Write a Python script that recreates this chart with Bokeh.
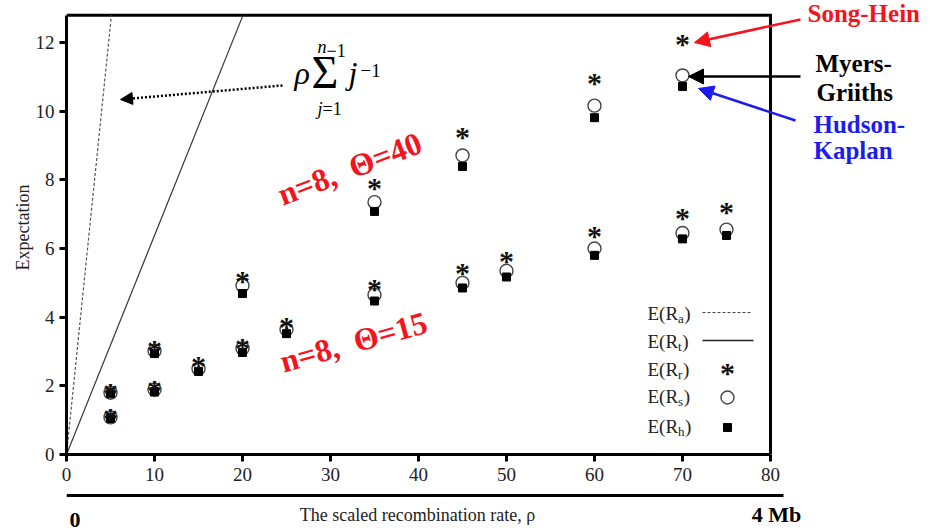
import math
from bokeh.plotting import figure
from bokeh.layouts import column
from bokeh.models import Range1d, LinearAxis, FixedTicker, Label, Arrow, NormalHead
from bokeh.embed import file_html
from bokeh.resources import INLINE
from bokeh.core.properties import value

# ---------------- data ----------------
x_ticks = [0, 10, 20, 30, 40, 50, 60, 70, 80]
y_ticks = [0, 2, 4, 6, 8, 10, 12]

# n=8, Theta=15
rho_t15 = [5, 10, 15, 20, 25, 35, 45, 50, 60, 70, 75]
Rr_t15 = [1.13, 1.96, 2.65, 3.17, 3.80, 4.90, 5.35, 5.70, 6.45, 6.95, 7.15]
Rs_t15 = [1.08, 1.89, 2.50, 3.09, 3.64, 4.65, 5.00, 5.35, 6.00, 6.45, 6.55]
Rh_t15 = [1.05, 1.82, 2.42, 2.97, 3.52, 4.47, 4.85, 5.17, 5.80, 6.28, 6.38]

# n=8, Theta=40
rho_t40 = [5, 10, 20, 35, 45, 60, 70]
Rr_t40 = [1.86, 3.12, 5.12, 7.84, 9.33, 10.90, 12.02]
Rs_t40 = [1.80, 3.02, 4.92, 7.35, 8.71, 10.16, 11.04]
Rh_t40 = [1.77, 2.94, 4.69, 7.08, 8.39, 9.81, 10.72]

# expectation lines (drawn up to the top of the box)
rho_Ra = [0, 5.1]
E_Ra = [0, 12.79]
rho_Rt = [0, 20.05]
E_Rt = [0, 12.79]

X_MAX = 80
Y_TOP = 12.79

SERIF = "Liberation Serif"
DESC = 0.216  # descent of Liberation Serif (em)

# ---------------- main figure ----------------
W = 940
H1 = 490
p = figure(width=W, height=H1, x_range=Range1d(0, 99.32), y_range=Range1d(0, 13.223),
           output_backend="svg", toolbar_location=None,
           x_axis_type=None, y_axis_type=None,
           min_border_left=66, min_border_right=0, min_border_top=0, min_border_bottom=36)
p.outline_line_color = None
p.background_fill_color = "white"
p.border_fill_color = "white"


def X(px):
    return (px - 66) / 8.8


def Y(py):
    return (454 - py) / 34.333


def txt(px, base, text, size, color="black", style="normal", align="left", angle=0.0, ymap=Y):
    """Label whose alphabetic baseline sits at picture row `base`."""
    return Label(x=X(px), y=ymap(base + DESC * size), text=text, text_font=SERIF,
                 text_font_style=style, text_font_size=f"{size}px", text_color=color,
                 text_align=align, text_baseline="bottom", angle=angle)


def style_axis(ax):
    ax.axis_line_width = 3
    ax.axis_line_color = "black"
    ax.major_tick_line_width = 3
    ax.major_tick_out = 7
    ax.major_tick_in = 0
    ax.minor_tick_out = 0
    ax.minor_tick_in = 0
    ax.major_label_text_font = SERIF
    ax.major_label_text_font_size = "19px"
    ax.major_label_text_color = "#222222"
    ax.axis_label_text_font = SERIF
    ax.axis_label_text_font_style = "normal"
    ax.axis_label_text_font_size = "18px"
    ax.axis_label_text_color = "#222222"


yax = LinearAxis(ticker=FixedTicker(ticks=y_ticks), bounds=(0, Y_TOP), axis_label="Expectation")
style_axis(yax)
yax.major_label_standoff = 5
yax.axis_label_standoff = 0
p.add_layout(yax, "left")

xax = LinearAxis(ticker=FixedTicker(ticks=x_ticks), bounds=(0, X_MAX))
style_axis(xax)
xax.major_label_standoff = 6
p.add_layout(xax, "below")

# box top and right
p.line([0, X_MAX, X_MAX], [Y_TOP, Y_TOP, 0], line_color="black", line_width=3, line_join="miter")

# expectation lines
p.line(rho_Ra, E_Ra, line_color="#555555", line_width=1.2, line_dash="3 2")
p.line(rho_Rt, E_Rt, line_color="#333333", line_width=1.2)

AST_SIZE = "30px"
AST_OFF = 2

# data markers
for rho, rs, rh, rr in [(rho_t15, Rs_t15, Rh_t15, Rr_t15), (rho_t40, Rs_t40, Rh_t40, Rr_t40)]:
    p.scatter(rho, rs, marker="circle", size=13, fill_color=None, line_color="#444444", line_width=1.4)
    p.scatter(rho, rh, marker="square", size=8, fill_color="black", line_color="black")
    p.text(rho, rr, text=value("*"), text_font=value(SERIF), text_font_size=value(AST_SIZE),
           text_font_style="bold", text_align="center", text_baseline="alphabetic",
           y_offset=AST_OFF, text_color="#111111")

# ---------------- legend (text left, symbol right) ----------------
leg_rows = [("a", 319), ("t", 347), ("r", 375), ("s", 402), ("h", 432)]
sub_w = {"a": 0.444, "t": 0.278, "r": 0.333, "s": 0.389, "h": 0.5}
for sub, base in leg_rows:
    x0 = 647
    p.add_layout(txt(x0, base, "E(R", 19, "#222222"))
    xs = x0 + 30.6
    p.add_layout(txt(xs, base + 4, sub, 13, "#222222"))
    xc = xs + sub_w[sub] * 13 + 0.5
    p.add_layout(txt(xc, base, ")", 19, "#222222"))

p.line([X(702), X(751)], [Y(312), Y(312)], line_color="#444444", line_width=1.2, line_dash="3 2")
p.line([X(702), X(753)], [Y(340), Y(340)], line_color="#222222", line_width=1.5)
p.text([X(727)], [Y(370)], text=value("*"), text_font=value(SERIF), text_font_size=value(AST_SIZE),
       text_font_style="bold", text_align="center", text_baseline="alphabetic",
       y_offset=AST_OFF, text_color="#111111")
p.scatter([X(727)], [Y(397)], marker="circle", size=13, fill_color=None, line_color="#444444", line_width=1.4)
p.scatter([X(727)], [Y(427)], marker="square", size=8, fill_color="black", line_color="black")

# ---------------- formula ----------------
p.add_layout(txt(294, 84, "\u03c1", 32, style="italic"))
p.add_layout(txt(311, 88, "\u03a3", 46))
p.add_layout(txt(348, 84, "j", 32, style="italic"))
p.add_layout(txt(360, 72, "\u22121", 19))
p.add_layout(txt(317, 53, "n", 18, style="italic"))
p.add_layout(txt(326, 53, "\u22121", 18))
p.add_layout(txt(317, 115, "j", 18, style="italic"))
p.add_layout(txt(322, 115, "=1", 18))

p.add_layout(Arrow(end=NormalHead(size=12, fill_color="black", line_color="black"),
                   x_start=X(282), y_start=Y(85), x_end=X(120), y_end=Y(99),
                   line_color="black", line_width=2.5, line_dash="2 2"))

# ---------------- red n=8 labels ----------------
RED = "#f4141e"
GAP = "\u00a0\u00a0"
p.add_layout(txt(285, 205, "n=8," + GAP + "\u0398=40", 32, RED, "bold", angle=math.radians(21)))
p.add_layout(txt(285, 372, "n=8," + GAP + "\u0398=15", 32, RED, "bold", angle=math.radians(15.5)))

# ---------------- method annotations ----------------
BLUE = "#1c1cf0"
p.add_layout(txt(807, 21, "Song-Hein", 25, RED, "bold"))
p.add_layout(txt(815, 71, "Myers-", 25, "black", "bold"))
p.add_layout(txt(816, 100, "Griiths", 25, "black", "bold"))
p.add_layout(txt(813, 132, "Hudson-", 25, BLUE, "bold"))
p.add_layout(txt(813, 158, "Kaplan", 25, BLUE, "bold"))

for (xs, ys, xe, ye, col) in [(800, 19, 694, 42, RED), (800, 76, 688, 76, "black"), (795, 120, 698, 88, BLUE)]:
    p.add_layout(Arrow(end=NormalHead(size=15, fill_color=col, line_color=col),
                       x_start=X(xs), y_start=Y(ys), x_end=X(xe), y_end=Y(ye),
                       line_color=col, line_width=2.5))

# ---------------- strip under the axis: rule, "0", axis title, "4 Mb" ----------------
# (its frame is aligned with the main frame by the column layout)
H2 = 41
p2 = figure(width=W, height=H2, x_range=p.x_range, y_range=Range1d(-H2, 0),
            output_backend="svg", toolbar_location=None,
            x_axis_type=None, y_axis_type=None,
            min_border_left=66, min_border_right=0, min_border_top=0, min_border_bottom=0)
p2.outline_line_color = None
p2.background_fill_color = "white"
p2.border_fill_color = "white"


def Y2(py):
    return -(py - H1)


p2.line([0, X(783)], [Y2(495), Y2(495)], line_color="black", line_width=3)
p2.add_layout(txt(69, 522, "0", 22, "black", "bold", align="left", ymap=Y2))
p2.add_layout(txt(417, 521, "The scaled recombination rate, \u03c1", 18, "#222222", align="center", ymap=Y2))
p2.add_layout(txt(776, 522, "4 Mb", 22, "black", "bold", align="center", ymap=Y2))

layout = column(p, p2, spacing=0)
open("out.html", "w").write(file_html(layout, INLINE))
